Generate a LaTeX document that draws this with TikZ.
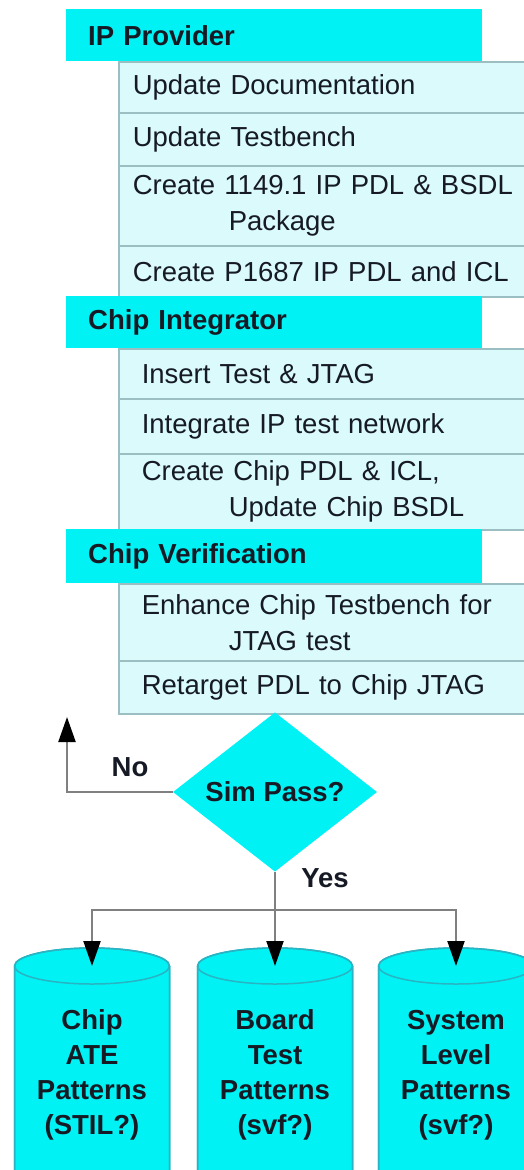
\documentclass[tikz,border=0pt]{standalone}
\usepackage{fontspec}
\setmainfont{Liberation Sans}
\usetikzlibrary{shapes.geometric,arrows.meta}
\definecolor{hdcyan}{RGB}{0,242,245}
\definecolor{subfill}{RGB}{218,250,252}
\definecolor{subline}{RGB}{155,190,195}
\definecolor{cylline}{RGB}{40,180,195}
\definecolor{conn}{RGB}{128,128,128}
\definecolor{ink}{RGB}{22,26,36}
\begin{document}
\begin{tikzpicture}[x=1pt,y=1pt,
  head/.style={fill=hdcyan, draw=none, anchor=north west, minimum width=416pt,
    inner xsep=22pt, inner ysep=0pt, text width=372pt, align=left, text=ink,
    font=\fontsize{27.5}{36}\selectfont\bfseries},
  sub/.style={fill=subfill, draw=subline, line width=1.5pt, anchor=north west,
    minimum width=430pt, inner ysep=0pt, align=left, text=ink,
    font=\fontsize{27.5}{36}\selectfont},
  subA/.style={sub, inner xsep=14pt, text width=402pt},
  subB/.style={sub, inner xsep=23pt, text width=384pt},
  lbl/.style={font=\fontsize{27.5}{36}\selectfont\bfseries, inner sep=0pt, text=ink},
  conn/.style={draw=conn, line width=2.2pt},
  arr/.style={conn, -{Triangle[length=25pt, width=17pt, color=black]}},
  cyl/.style={fill=hdcyan, draw=cylline, line width=1.5pt},
  cyltext/.style={font=\fontsize{27.5}{35}\selectfont\bfseries, align=center, inner sep=0pt, text=ink}
]
\useasboundingbox (0,0) rectangle (524,-1170);
\clip (0,0) rectangle (524,-1170);
\fill[white] (0,0) rectangle (524,-1170);

% IP Provider
\node[subA, minimum height=51pt] (r1) at (118,-61) {Update Documentation};
\node[subA, minimum height=53pt] (r2) at (118,-112) {Update Testbench};
\node[subA, minimum height=80pt] (r3) at (118,-165) {Create 1149.1 IP PDL \& BSDL\\\hspace*{96pt}Package};
\node[subA, minimum height=51pt] (r4) at (118,-245) {Create P1687 IP PDL and ICL};
\node[head, minimum height=52pt] (h1) at (66,-9) {IP Provider};

% Chip Integrator
\node[subB, minimum height=50pt] (r5) at (118,-348) {Insert Test \& JTAG};
\node[subB, minimum height=55pt] (r6) at (118,-398) {Integrate IP test network};
\node[subB, minimum height=76pt] (r7) at (118,-453) {Create Chip PDL \& ICL,\\\hspace*{87pt}Update Chip BSDL};
\node[head, minimum height=52pt] (h2) at (66,-296) {Chip Integrator};

% Chip Verification
\node[subB, minimum height=77pt] (r8) at (118,-583) {Enhance Chip Testbench for\\\hspace*{87pt}JTAG test};
\node[subB, minimum height=53pt] (r9) at (118,-660) {Retarget PDL to Chip JTAG};
\node[head, minimum height=54pt] (h3) at (66,-529) {Chip Verification};

% decision
\node[diamond, fill=hdcyan, minimum width=204pt, minimum height=153pt, inner sep=0pt, text=ink,
  font=\fontsize{27.5}{36}\selectfont\bfseries] (dec) at (275,-792) {Sim Pass?};

\coordinate (noend) at (67,-717);
\draw[arr] (dec.west) -| (noend);
\node[lbl] (nolbl) at (130,-767) {No};

\coordinate (split) at (275,-910);
\draw[conn] (dec.south) -- (split);
\node[lbl] (yeslbl) at (325,-878) {Yes};

% cylinders
\foreach \cx in {92,275,456}{
  \fill[cyl] ({\cx-77.5},-1220) -- ({\cx-77.5},-966)
    arc[start angle=180, end angle=0, x radius=77.5, y radius=18]
    -- ({\cx+77.5},-1220) -- cycle;
  \draw[draw=cylline, line width=1.5pt] ({\cx-77.5},-1220) -- ({\cx-77.5},-966)
    arc[start angle=180, end angle=0, x radius=77.5, y radius=18]
    -- ({\cx+77.5},-1220);
  \draw[draw=cylline, line width=1.5pt] ({\cx-77.5},-966)
    arc[start angle=180, end angle=360, x radius=77.5, y radius=18];
}
\node[cyltext] (c1) at (92,-1075) {Chip\\ATE\\Patterns\\(STIL?)};
\node[cyltext] (c2) at (275,-1075) {Board\\Test\\Patterns\\(svf?)};
\node[cyltext] (c3) at (456,-1075) {System\\Level\\Patterns\\(svf?)};

\coordinate (t1) at (92,-966);
\coordinate (t2) at (275,-966);
\coordinate (t3) at (456,-966);
\draw[arr] (split) -| (t1);
\draw[arr] (split) -- (t2);
\draw[arr] (split) -| (t3);
\end{tikzpicture}
\end{document}
